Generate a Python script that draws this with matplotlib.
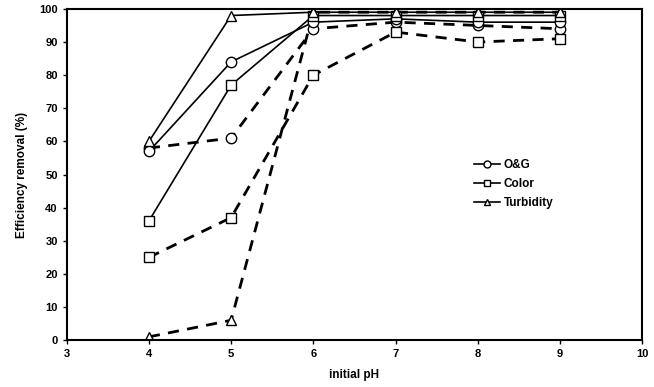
import matplotlib.pyplot as plt

# initial pH
ph = [4, 5, 6, 7, 8, 9]

# solid series
og_solid = [57, 84, 96, 97, 96, 96]
color_solid = [36, 77, 98, 98, 98, 98]
turb_solid = [60, 98, 99, 99, 99, 99]

# dashed series
og_dash = [58, 61, 94, 96, 95, 94]
color_dash = [25, 37, 80, 93, 90, 91]
turb_dash = [1, 6, 99, 99, 99, 99]

labels = ["O&G", "Color", "Turbidity"]
markers = ["o", "s", "^"]

plt.rcParams['font.family'] = ['Liberation Sans', 'DejaVu Sans']
plt.rcParams['font.weight'] = 'bold'

fig = plt.figure(figsize=(6.54, 3.87), dpi=100)
ax = fig.add_axes([0.102, 0.121, 0.880, 0.856])

mk = dict(markerfacecolor='white', markeredgecolor='black', markersize=7.5,
          markeredgewidth=1.0, color='black')

# dashed lines first (under)
for ys, m in zip([og_dash, color_dash, turb_dash], markers):
    ax.plot(ph, ys, linestyle=(0, (4, 3)), linewidth=2.0, marker=m, **mk)

for ys, m, lab in zip([og_solid, color_solid, turb_solid], markers, labels):
    ax.plot(ph, ys, linestyle='-', linewidth=1.2, marker=m, label=lab, **mk)

ax.set_xlim(3, 10)
ax.set_ylim(0, 100)
ax.set_xticks(range(3, 11))
ax.set_yticks(range(0, 101, 10))
ax.tick_params(labelsize=8, direction='out', length=3, width=1, colors='black')
for t in ax.get_xticklabels() + ax.get_yticklabels():
    t.set_fontweight('bold')
for s in ax.spines.values():
    s.set_linewidth(1.5)
    s.set_color('black')

ax.set_xlabel("initial pH", fontsize=8.5, fontweight='bold', labelpad=7)
ax.set_ylabel("Efficiency removal (%)", fontsize=8.5, fontweight='bold', labelpad=8)

leg_handles = [plt.Line2D([], [], color='black', linewidth=1.2, marker=m,
                          markerfacecolor='white', markeredgecolor='black',
                          markersize=5) for m in markers]
ax.legend(leg_handles, labels, loc='upper left', bbox_to_anchor=(0.69, 0.58),
          frameon=False, handlelength=2.2, handletextpad=0.3,
          labelspacing=0.6, prop={'weight': 'bold', 'size': 8.5})

fig.savefig("out.png", dpi=100)
